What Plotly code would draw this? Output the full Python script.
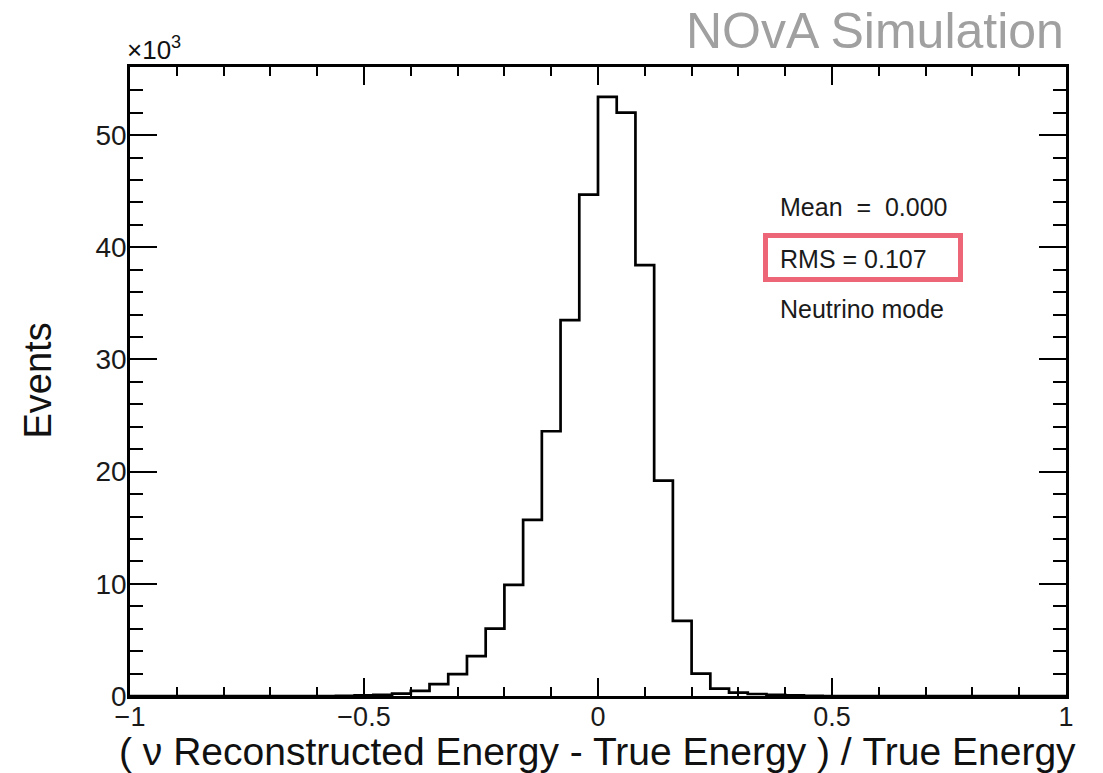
import numpy as np
import plotly.graph_objects as go

# ---------------- data ----------------
x_min, x_max, n_bins = -1.0, 1.0, 50          # histogram binning (width 0.04)
# events per bin, in units of 10^3
events_k = [
    0, 0, 0, 0, 0, 0, 0, 0, 0, 0,               # -1.00 .. -0.60
    0, 0.02, 0.05, 0.10, 0.22, 0.45, 1.05, 1.95, 3.55, 6.0,   # -0.60 .. -0.20
    9.9, 15.7, 23.6, 33.5, 44.7, 53.4, 52.0, 38.4, 19.2, 6.7,  # -0.20 .. 0.20
    2.0, 0.65, 0.30, 0.18, 0.10, 0.05, 0.02, 0, 0, 0,          # 0.20 .. 0.60
    0, 0, 0, 0, 0, 0, 0, 0, 0, 0,               # 0.60 .. 1.00
]
x_tick_vals = [-1, -0.5, 0, 0.5, 1]
x_tick_text = ["\u22121", "\u22120.5", "0", "0.5", "1"]
y_tick_vals = [0, 10, 20, 30, 40, 50]
y_tick_text = ["0", "10", "20", "30", "40", "50"]
stats_lines = ["Mean\u00a0 =\u00a0 0.000", "RMS = 0.107", "Neutrino mode"]
x_title = "( \u03bd Reconstructed Energy - True Energy ) / True Energy"
y_title = "Events"
watermark = "NOvA Simulation"

# ---------------- figure ----------------
edges = np.round(np.linspace(x_min, x_max, n_bins + 1), 4)
step_y = list(events_k) + [events_k[-1]]

W, H = 1103, 773
L, R, T, B = 130, 37, 67, 77
pw, ph = W - L - R, H - T - B

def px_x(px):
    return (px - L) / pw

def px_y(py):
    return (H - B - py) / ph

FONT = "Liberation Sans, Arial, Helvetica, sans-serif"

fig = go.Figure()
fig.add_trace(go.Scatter(
    x=edges, y=step_y, mode="lines", line_shape="hv",
    line=dict(color="black", width=2.7), showlegend=False, hoverinfo="skip",
))

y_max = max(events_k) * 1.05

axis_common = dict(
    showline=True, linecolor="black", linewidth=2.6, mirror="allticks",
    ticks="inside", tickcolor="black", tickwidth=1.5,
    showgrid=False, zeroline=False,
)

fig.update_xaxes(
    range=[x_min, x_max], tickvals=x_tick_vals, ticktext=x_tick_text,
    ticklen=18, ticklabelstandoff=-5,
    tickfont=dict(family=FONT, size=27, color="#1a1a1a"),
    minor=dict(ticks="inside", dtick=0.1, tick0=-1, ticklen=9, tickwidth=1.5, tickcolor="black"),
    **axis_common,
)
fig.update_yaxes(
    range=[0, y_max], tickvals=y_tick_vals, ticktext=y_tick_text,
    ticklen=27, ticklabelstandoff=-5,
    tickfont=dict(family=FONT, size=28, color="#1a1a1a"),
    minor=dict(ticks="inside", dtick=2, tick0=0, ticklen=13, tickwidth=1.5, tickcolor="black"),
    **axis_common,
)

annotations = [
    dict(text=x_title, x=px_x(597.5), y=px_y(751), xref="paper", yref="paper",
         xanchor="center", yanchor="middle", showarrow=False,
         font=dict(family=FONT, size=39, color="#111")),
    dict(text=y_title, x=px_x(37.5), y=px_y(381), xref="paper", yref="paper",
         xanchor="center", yanchor="middle", textangle=-90, showarrow=False,
         font=dict(family=FONT, size=38, color="#111")),
    dict(text=watermark, x=px_x(1066), y=px_y(31), xref="paper", yref="paper",
         xanchor="right", yanchor="middle", showarrow=False,
         font=dict(family=FONT, size=50, color="#a0a0a0")),
    dict(text="\u00d710<sup>3</sup>", x=px_x(125), y=px_y(67), xref="paper", yref="paper",
         xanchor="left", yanchor="bottom", showarrow=False,
         font=dict(family=FONT, size=26, color="#111")),
]
for txt, cy in zip(stats_lines, [207, 259, 309]):
    annotations.append(dict(text=txt, x=px_x(778), y=px_y(cy), xref="paper", yref="paper",
                            xanchor="left", yanchor="middle", showarrow=False,
                            font=dict(family=FONT, size=25, color="#1a1a1a")))

fig.update_layout(
    width=W, height=H,
    margin=dict(l=L, r=R, t=T, b=B, autoexpand=False),
    plot_bgcolor="white", paper_bgcolor="white",
    annotations=annotations,
    shapes=[dict(type="rect", xref="paper", yref="paper",
                 x0=px_x(765.5), x1=px_x(960.5), y0=px_y(279.5), y1=px_y(235.5),
                 line=dict(color="#ec6678", width=5))],
)

fig.write_html("out.html")
